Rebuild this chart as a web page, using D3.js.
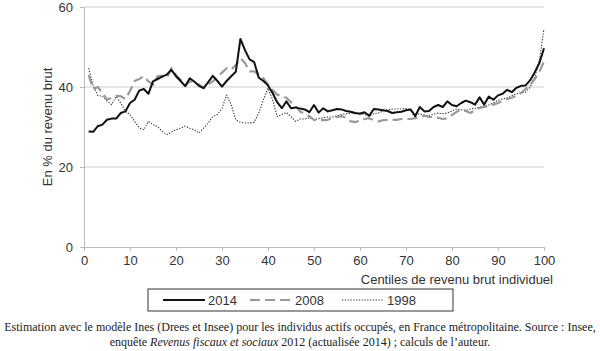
<!DOCTYPE html>
<html>
<head>
<meta charset="utf-8">
<script src="https://cdn.jsdelivr.net/npm/d3@7"></script>
<style>
  body { margin: 0; background: #fff; }
  svg text { font-family: "Liberation Sans", Arial, sans-serif; fill: #333; }
  .caption { font-family: "Liberation Serif", "Times New Roman", serif; fill: #222; font-size: 12px; }
</style>
</head>
<body>
<div id="chart"></div>
<script>
// centiles 1..100
const centiles = d3.range(1, 101)

const y2014 = [28.9, 28.8, 30.2, 30.6, 31.8, 32.1, 32.1, 33.5, 33.9, 36,
  36.8, 39.1, 39.5, 38.3, 41.4, 42, 42.6, 43.1, 44.3, 42.7,
  41.5, 40.2, 42.2, 41.3, 40.3, 39.7, 41.2, 42.8, 41.5, 40.1,
  41.5, 42.7, 43.8, 52, 49.2, 46.9, 46.2, 42.3, 41.5, 40.4,
  38.5, 36.2, 34.7, 36.4, 34.7, 34.9, 34.6, 34.4, 33.7, 35.5,
  33.6, 34.7, 33.9, 34.2, 34.5, 34.4, 34, 33.8, 33.5, 33.3,
  33.7, 32.8, 34.5, 34.4, 34.2, 34, 33.5, 33.7, 33.8, 34.2,
  34.4, 32.7, 35, 33.9, 34, 35, 35.5, 35, 36.4, 35.5,
  35.2, 36, 36.6, 36.2, 35.6, 37.4, 35.6, 37.6, 36.8, 37.9,
  38.3, 39.3, 38.7, 39.8, 40.3, 40.4, 41.7, 43.7, 46, 49.7]

const y2008 = [43, 39.5, 40, 38.5, 36.8, 37.3, 37.8, 37.7, 37, 39,
  41.5, 42, 42.7, 41.4, 40.6, 42.7, 42.8, 42.2, 44.7, 43,
  41.8, 40.3, 41.4, 41, 40.6, 39.7, 40.6, 41.4, 42.6, 43.6,
  44.7, 44.3, 45.5, 47.2, 46, 43.9, 43.9, 43.1, 42.2, 40.6,
  39.2, 38.1, 37.7, 37.3, 36.2, 35.2, 33.9, 33.3, 32.7, 31.8,
  31.7, 31.7, 31.8, 32.3, 32.5, 32.7, 32.3, 31.4, 31.2, 31.7,
  32, 32.2, 31.7, 31.4, 31.7, 31.8, 31.8, 31.8, 32, 32,
  32, 32.2, 32.5, 32.8, 32.5, 32.5, 32.3, 32, 32.2, 33,
  33.8, 34.3, 34, 33.5, 34.2, 34.8, 35, 35.3, 35.6, 36,
  36.5, 37, 37.3, 37.8, 38.5, 39.5, 40.5, 42, 43.8, 46.4]

const y1998 = [44.7, 40.3, 37.9, 37.7, 36.5, 35.6, 37.6, 36, 33.9, 33.1,
  31.4, 29.8, 29.3, 31.4, 30.6, 30.1, 28.9, 28.1, 28.7, 29.3,
  29.7, 30.2, 29.7, 29.3, 28.5, 29.7, 31, 32.6, 33.1, 34.7,
  38, 35.6, 31.8, 31.2, 31, 31, 31.2, 33.5, 36.8, 39.7,
  36.8, 32.6, 33.1, 33.6, 32.6, 31.4, 32, 32, 32.3, 31.8,
  32.1, 32.3, 32.5, 32.5, 32.8, 33.1, 33.3, 33.5, 33.3, 33.5,
  33.1, 32.7, 33.3, 33.5, 34, 34.3, 34.5, 34.5, 34.5, 34.7,
  34.2, 33.3, 33.2, 33, 32.8, 33.2, 33.5, 33.3, 33.5, 34,
  34.5, 34.3, 34.2, 34.5, 34.7, 35, 35.2, 35.5, 36, 36.7,
  37, 37.3, 37.8, 38.3, 38.5, 38.7, 40, 42.5, 46.8, 54.5]

const seriesNames = ['2014', '2008', '1998']
const xTicks = d3.range(0, 101, 10)
const yTicks = [0, 20, 40, 60]

const w = 600, h = 351
const margin = { top: 7, left: 84, right: 56, bottom: 104 }
const gW = w - margin.left - margin.right, gH = h - margin.top - margin.bottom

const svg = d3.select('#chart').append('svg').attr('width', w).attr('height', h)
const g = svg.append('g').attr('transform', `translate(${margin.left}, ${margin.top})`)

const x = d3.scaleLinear().domain([0, 100]).range([0, gW])
const y = d3.scaleLinear().domain([0, 60]).range([gH, 0])

// grid
g.selectAll('line.grid').data(yTicks.filter(d => d > 0)).enter().append('line')
  .attr('x1', 0).attr('x2', gW)
  .attr('y1', d => y(d)).attr('y2', d => y(d))
  .attr('stroke', '#d0d0d0').attr('stroke-width', 1)

// axes
const xAxis = g.append('g').attr('transform', `translate(0, ${gH})`)
  .call(d3.axisBottom(x).tickValues(xTicks).tickSize(4).tickPadding(5))
const yAxis = g.append('g')
  .call(d3.axisLeft(y).tickValues(yTicks).tickSize(4).tickPadding(7))
for (const ax of [xAxis, yAxis]) {
  ax.select('.domain').attr('stroke', '#bbb')
  ax.selectAll('.tick line').attr('stroke', '#bbb')
  ax.selectAll('.tick text').attr('font-size', 13).attr('fill', '#333')
    .style('font-family', '"Liberation Sans", Arial, sans-serif')
}

// lines
const styles = {
  '2014': { stroke: '#111', width: 2, dash: null },
  '2008': { stroke: '#999', width: 2.2, dash: '10,5' },
  '1998': { stroke: '#333', width: 1.1, dash: '1.3,1.5' }
}
const dataMap = { '2014': y2014, '2008': y2008, '1998': y1998 }
const line = d3.line().x((d, i) => x(centiles[i])).y(d => y(d))

// draw in reverse so 2014 sits on top
seriesNames.slice().reverse().forEach(k => {
  const s = styles[k]
  g.append('path').datum(dataMap[k])
    .attr('fill', 'none').attr('stroke', s.stroke)
    .attr('stroke-width', s.width).attr('stroke-dasharray', s.dash)
    .attr('stroke-linejoin', 'round')
    .attr('d', line)
})

// axis titles
svg.append('text').text('Centiles de revenu brut individuel')
  .attr('x', 553).attr('y', 284).attr('text-anchor', 'end').attr('font-size', 13)
svg.append('text').text('En % du revenu brut')
  .attr('transform', `translate(52, ${margin.top + gH / 2}) rotate(-90)`)
  .attr('text-anchor', 'middle').attr('font-size', 13)

// legend
const lg = svg.append('g').attr('transform', 'translate(148, 289)')
lg.append('rect').attr('width', 305).attr('height', 22)
  .attr('fill', '#fff').attr('stroke', '#333').attr('stroke-width', 1)
const lx = [15, 102, 194]
seriesNames.forEach((k, i) => {
  const s = styles[k]
  lg.append('line').attr('x1', lx[i]).attr('x2', lx[i] + 42).attr('y1', 11).attr('y2', 11)
    .attr('stroke', s.stroke).attr('stroke-width', s.width).attr('stroke-dasharray', s.dash)
  lg.append('text').text(k).attr('x', lx[i] + 45).attr('y', 15.5).attr('font-size', 13)
})

// caption
svg.append('text').attr('class', 'caption').attr('x', 300).attr('y', 331).attr('text-anchor', 'middle')
  .text('Estimation avec le modèle Ines (Drees et Insee) pour les individus actifs occupés, en France métropolitaine. Source : Insee,')
const cap2 = svg.append('text').attr('class', 'caption').attr('x', 300).attr('y', 346).attr('text-anchor', 'middle')
cap2.append('tspan').text('enquête ')
cap2.append('tspan').attr('font-style', 'italic').text('Revenus fiscaux et sociaux')
cap2.append('tspan').text(' 2012 (actualisée 2014) ; calculs de l’auteur.')
</script>
</body>
</html>
